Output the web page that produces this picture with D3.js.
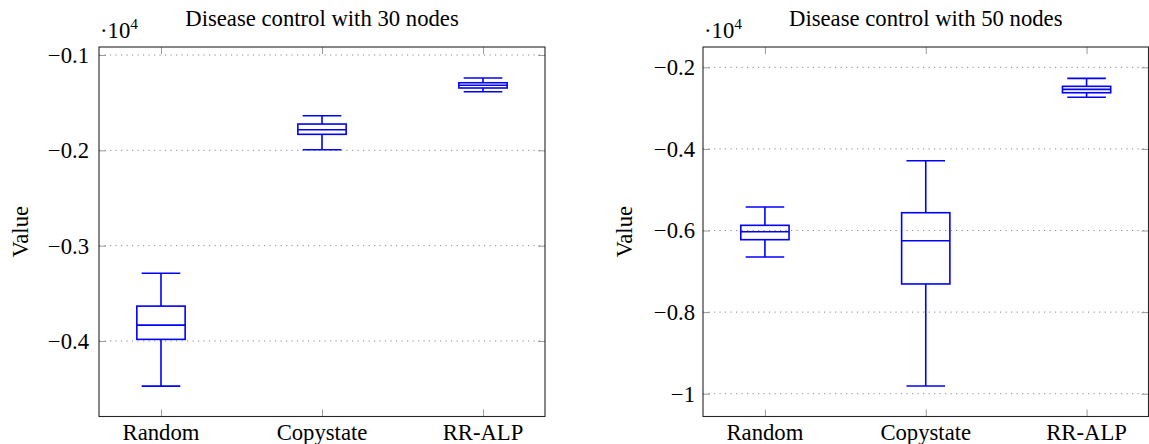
<!DOCTYPE html>
<html>
<head>
<meta charset="utf-8">
<script src="https://cdn.jsdelivr.net/npm/d3@7"></script>
<style>
  body { margin: 0; background: #fff; }
</style>
</head>
<body>
<svg id="chart" width="1149" height="444"></svg>
<script>
// categories shared by both panels
const categories = ["Random", "Copystate", "RR-ALP"];

// 30 nodes: whisker ends, quartiles, median
const n30Low    = [-4473, -1994, -1385];
const n30Q1     = [-3983, -1832, -1346];
const n30Median = [-3833, -1784, -1318];
const n30Q3     = [-3634, -1724, -1291];
const n30High   = [-3290, -1637, -1241];
const n30Ticks  = [-1000, -2000, -3000, -4000];
const n30TickLabels = ["\u22120.1", "\u22120.2", "\u22120.3", "\u22120.4"];
const n30Range  = [-4792, -916];

// 50 nodes
const n50Low    = [-6650, -9811, -2735];
const n50Q1     = [-6225, -7310, -2623];
const n50Median = [-6029, -6250, -2540];
const n50Q3     = [-5873, -5564, -2466];
const n50High   = [-5424, -4289, -2270];
const n50Ticks  = [-2000, -4000, -6000, -8000, -10000];
const n50TickLabels = ["\u22120.2", "\u22120.4", "\u22120.6", "\u22120.8", "\u22121"];
const n50Range  = [-10559, -1502];

var serif = "'Liberation Serif', 'Times New Roman', Times, 'DejaVu Serif', serif";
var svg = d3.select("#chart").style("font-family", serif);
var fs = 22.7;

function txt(sel) {
    return sel.style("font-family", serif).style("font-size", fs + "px").attr("fill", "#000");
}

function draw_panel(opt) {
    var x0 = opt.left, x1 = opt.right, y0 = 47, y1 = 416.5;
    var g = svg.append("g");

    var x = d3.scalePoint().domain(categories).range([x0, x1]).padding(0.385);
    var y = d3.scaleLinear().domain(opt.range).range([y1, y0]);
    var step = x.step(), bw = step * 0.3, cw = bw * 0.8;

    // dotted grid
    g.selectAll("line.grid").data(opt.ticks).join("line")
        .attr("x1", x0).attr("x2", x1)
        .attr("y1", d => y(d)).attr("y2", d => y(d))
        .attr("stroke", "#8a8a8a").attr("stroke-width", 1)
        .attr("stroke-dasharray", "1.2,4.3");

    // inward ticks, both sides
    var tl = 7;
    g.append("g").attr("transform", "translate(" + x0 + ",0)")
        .call(d3.axisRight(y).tickValues(opt.ticks).tickSize(tl).tickFormat(""))
        .call(a => a.select(".domain").remove())
        .selectAll("line").attr("stroke", "#999");
    g.append("g").attr("transform", "translate(" + x1 + ",0)")
        .call(d3.axisLeft(y).tickValues(opt.ticks).tickSize(tl).tickFormat(""))
        .call(a => a.select(".domain").remove())
        .selectAll("line").attr("stroke", "#999");
    g.append("g").attr("transform", "translate(0," + y1 + ")")
        .call(d3.axisTop(x).tickSize(tl).tickFormat(""))
        .call(a => a.select(".domain").remove())
        .selectAll("line").attr("stroke", "#999");
    g.append("g").attr("transform", "translate(0," + y0 + ")")
        .call(d3.axisBottom(x).tickSize(tl).tickFormat(""))
        .call(a => a.select(".domain").remove())
        .selectAll("line").attr("stroke", "#999");

    // tick labels
    g.selectAll("text.ylab").data(opt.ticks).join("text")
        .attr("x", opt.labelX).attr("y", d => y(d)).attr("dy", "0.35em")
        .attr("text-anchor", "end").call(txt)
        .text((d, i) => opt.tickLabels[i]);
    g.selectAll("text.xlab").data(categories).join("text")
        .attr("x", d => x(d)).attr("y", 440)
        .attr("text-anchor", "middle").call(txt)
        .text(d => d);

    // frame
    g.append("rect").attr("x", x0).attr("y", y0)
        .attr("width", x1 - x0).attr("height", y1 - y0)
        .attr("fill", "none").attr("stroke", "#262626").attr("stroke-width", 1.1);

    // boxes
    var boxes = g.selectAll("g.box").data(categories).join("g")
        .attr("stroke", "#0000ff").attr("stroke-width", 1.6).attr("fill", "none");
    boxes.append("line").attr("x1", d => x(d)).attr("x2", d => x(d))
        .attr("y1", (d, i) => y(opt.low[i])).attr("y2", (d, i) => y(opt.q1[i]));
    boxes.append("line").attr("x1", d => x(d)).attr("x2", d => x(d))
        .attr("y1", (d, i) => y(opt.q3[i])).attr("y2", (d, i) => y(opt.high[i]));
    boxes.append("line").attr("x1", d => x(d) - cw / 2).attr("x2", d => x(d) + cw / 2)
        .attr("y1", (d, i) => y(opt.low[i])).attr("y2", (d, i) => y(opt.low[i]));
    boxes.append("line").attr("x1", d => x(d) - cw / 2).attr("x2", d => x(d) + cw / 2)
        .attr("y1", (d, i) => y(opt.high[i])).attr("y2", (d, i) => y(opt.high[i]));
    boxes.append("rect").attr("x", d => x(d) - bw / 2).attr("width", bw)
        .attr("y", (d, i) => y(opt.q3[i]))
        .attr("height", (d, i) => y(opt.q1[i]) - y(opt.q3[i]));
    boxes.append("line").attr("x1", d => x(d) - bw / 2).attr("x2", d => x(d) + bw / 2)
        .attr("y1", (d, i) => y(opt.median[i])).attr("y2", (d, i) => y(opt.median[i]));

    // title, scale factor, y label
    g.append("text").attr("x", (x0 + x1) / 2).attr("y", 26)
        .attr("text-anchor", "middle").call(txt).text(opt.title);
    var sc = g.append("text").attr("x", x0 + 1).attr("y", 38).call(txt);
    sc.append("tspan").text("\u00b710");
    sc.append("tspan").attr("dy", -9).style("font-size", "15.5px").text("4");
    g.append("text")
        .attr("transform", "translate(" + opt.valueX + "," + ((y0 + y1) / 2) + ") rotate(-90)")
        .attr("dy", "0.35em").attr("text-anchor", "middle")
        .call(txt).text("Value");
}

draw_panel({
    left: 99, right: 545, labelX: 89, valueX: 20,
    title: "Disease control with 30 nodes",
    range: n30Range, ticks: n30Ticks, tickLabels: n30TickLabels,
    low: n30Low, q1: n30Q1, median: n30Median, q3: n30Q3, high: n30High
});
draw_panel({
    left: 703, right: 1148.5, labelX: 695, valueX: 624,
    title: "Disease control with 50 nodes",
    range: n50Range, ticks: n50Ticks, tickLabels: n50TickLabels,
    low: n50Low, q1: n50Q1, median: n50Median, q3: n50Q3, high: n50High
});
</script>
</body>
</html>
